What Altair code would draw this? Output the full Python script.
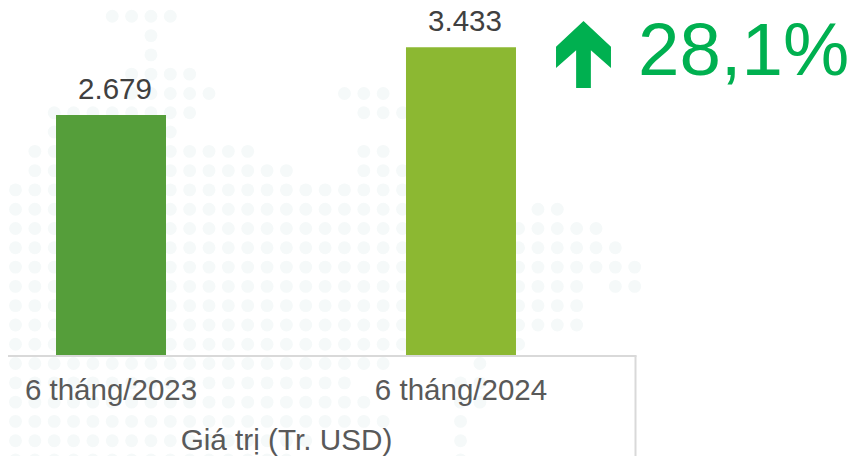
import altair as alt
import pandas as pd

categories = ["6 tháng/2023", "6 tháng/2024"]
values = [2679, 3433]
value_labels = ["2.679", "3.433"]
bar_colors = ["#559E3A", "#8CB832"]
axis_title = "Giá trị (Tr. USD)"
change_label = "28,1%"

# Background dot map: per grid row, the runs of grid columns that hold a dot.
dot_rows = {
    0: [(4, 6)], 1: [(5, 8)], 2: [(7, 7)], 3: [(7, 7)], 4: [(6, 9)],
    5: [(6, 10), (17, 19)], 6: [(2, 9), (18, 20)], 7: [(2, 8)],
    8: [(1, 12), (18, 19)], 9: [(1, 14), (18, 20)], 10: [(0, 21)],
    11: [(0, 21), (27, 28)], 12: [(0, 30)], 13: [(0, 31)], 14: [(0, 32)],
    15: [(0, 29), (31, 32)], 16: [(0, 29)], 17: [(0, 29)], 18: [(0, 26)],
    19: [(0, 19), (24, 24)], 20: [(0, 17), (23, 24)], 21: [(0, 18), (23, 24)],
    22: [(0, 19), (23, 23)], 23: [(0, 15), (23, 23)], 24: [(0, 14), (23, 23)],
}
dots = pd.DataFrame(
    [{"col": c, "row": r} for r, runs in dot_rows.items() for a, b in runs for c in range(a, b + 1)]
)
bars = pd.DataFrame({"cat": categories, "value": values, "label": value_labels})

FONT = "Liberation Sans"
x_scale = alt.Scale(domain=categories, range=[-72, 628], paddingInner=0.6857, paddingOuter=0.3429)
y_scale = alt.Scale(domain=[0, 3870], range=[347.5, 0])

dot_layer = alt.Chart(dots).mark_circle(size=165, color="#F5F9F9", opacity=1).encode(
    x=alt.X("col:Q", axis=None, scale=alt.Scale(domain=[0, 32], range=[7.5, 626.7])),
    y=alt.Y("row:Q", axis=None, scale=alt.Scale(domain=[0, 24], range=[-11, 452])),
)

bar_layer = alt.Chart(bars).mark_bar().encode(
    x=alt.X(
        "cat:N", sort=categories, scale=x_scale, title=axis_title,
        axis=alt.Axis(
            labelAngle=0, ticks=False, domainColor="#D9D9D9", domainWidth=2, grid=False,
            labelFont=FONT, labelFontSize=29.5, labelColor="#595959", labelPadding=21,
            titleFont=FONT, titleFontSize=29.7, titleColor="#595959", titleFontWeight="normal",
            titlePadding=21, labelOverlap=False, zindex=1,
        ),
    ),
    y=alt.Y("value:Q", scale=y_scale, axis=None),
    color=alt.Color("cat:N", scale=alt.Scale(domain=categories, range=bar_colors), legend=None),
)

label_layer = alt.Chart(bars).mark_text(
    font=FONT, fontSize=29.5, color="#404040", baseline="alphabetic", dy=-16, dx=4
).encode(
    x=alt.X("cat:N", sort=categories, scale=x_scale, axis=None),
    y=alt.Y("value:Q", scale=y_scale, axis=None),
    text="label:N",
)

frame_layer = alt.Chart(pd.DataFrame({"a": [0]})).mark_rule(color="#D9D9D9", strokeWidth=2).encode(
    x=alt.value(627.5), y=alt.value(347.5), y2=alt.value(448)
)

arrow_path = "M0,-1 L0.82,-0.23 L0.82,0.4 L0.22,-0.13 L0.22,1 L-0.22,1 L-0.22,-0.13 L-0.82,0.4 L-0.82,-0.23 Z"
arrow_layer = alt.Chart(pd.DataFrame({"a": [0]})).mark_point(
    shape=arrow_path, size=4489, filled=True, color="#00B050", opacity=1, strokeWidth=0
).encode(x=alt.value(575.5), y=alt.value(46.5))

change_layer = alt.Chart(pd.DataFrame({"t": [change_label]})).mark_text(
    font=FONT, fontSize=74.5, color="#00B050", align="left", baseline="alphabetic"
).encode(x=alt.value(630), y=alt.value(67), text="t:N")

chart = (
    alt.layer(dot_layer, bar_layer, label_layer, frame_layer, arrow_layer, change_layer)
    .resolve_scale(x="independent", y="independent", color="independent")
    .properties(
        width=628, height=347.5, background="#FFFFFF",
        autosize=alt.AutoSizeParams(type="none"),
        padding={"left": 0, "top": 0, "right": 222, "bottom": 100},
    )
    .configure_view(stroke=None)
)

chart.save("out.html", embed_options={"renderer": "svg", "actions": False})
